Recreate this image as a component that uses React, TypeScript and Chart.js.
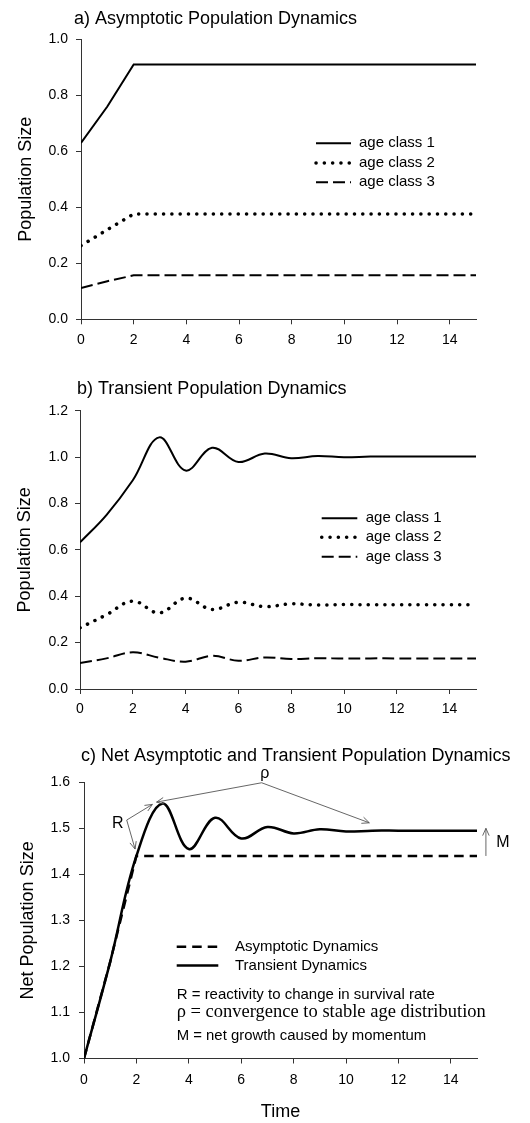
import React, { useEffect, useRef } from 'react';
import { Chart, registerables } from 'chart.js';

Chart.register(...registerables);

const SANS = "'Liberation Sans', Arial, Helvetica, sans-serif";
const SERIF = "'Liberation Serif', 'Times New Roman', Times, serif";
const AXIS = '#333';

// ---------- data ----------
const TIME = [0, 1, 2, 3, 4, 5, 6, 7, 8, 9, 10, 11, 12, 13, 14, 15];

// a) Asymptotic population dynamics
const ASYM_CLASS1 = [0.63, 0.76, 0.91, 0.91, 0.91, 0.91, 0.91, 0.91, 0.91, 0.91, 0.91, 0.91, 0.91, 0.91, 0.91, 0.91];
const ASYM_CLASS2 = [0.263, 0.32, 0.376, 0.376, 0.376, 0.376, 0.376, 0.376, 0.376, 0.376, 0.376, 0.376, 0.376, 0.376, 0.376, 0.376];
const ASYM_CLASS3 = [0.112, 0.136, 0.157, 0.157, 0.157, 0.157, 0.157, 0.157, 0.157, 0.157, 0.157, 0.157, 0.157, 0.157, 0.157, 0.157];

// b) Transient population dynamics
const TRANS_CLASS1 = [0.632, 0.75, 0.9, 1.085, 0.942, 1.04, 0.979, 1.015, 0.995, 1.005, 0.999, 1.002, 1.002, 1.002, 1.002, 1.002];
const TRANS_CLASS2 = [0.264, 0.32, 0.379, 0.328, 0.392, 0.343, 0.374, 0.355, 0.367, 0.362, 0.364, 0.363, 0.363, 0.363, 0.363, 0.363];
const TRANS_CLASS3 = [0.112, 0.132, 0.158, 0.135, 0.118, 0.143, 0.122, 0.136, 0.129, 0.133, 0.131, 0.132, 0.132, 0.132, 0.132, 0.132];

// c) Net dynamics
const NET_ASYM = [1.0, 1.21, 1.44, 1.44, 1.44, 1.44, 1.44, 1.44, 1.44, 1.44, 1.44, 1.44, 1.44, 1.44, 1.44, 1.44];
const NET_TRANS = [1.0, 1.21, 1.44, 1.554, 1.455, 1.523, 1.478, 1.503, 1.489, 1.498, 1.493, 1.495, 1.495, 1.495, 1.495, 1.495];

const CLASS_LABELS = ['age class 1', 'age class 2', 'age class 3'];
const NET_LABELS = ['Asymptotic Dynamics', 'Transient Dynamics'];
const NOTES = [
  'R = reactivity to change in survival rate',
  'ρ = convergence to stable age distribution',
  'M = net growth caused by momentum',
];

// ---------- styles ----------
const SOLID = { borderDash: [] as number[], borderWidth: 2, borderCapStyle: 'butt' };
const DOTTED = { borderDash: [0.1, 8.2], borderWidth: 3.5, borderCapStyle: 'round' };
const DASHED = { borderDash: [12, 5], borderWidth: 2, borderCapStyle: 'butt' };
const NET_DASHED = { borderDash: [9.5, 6], borderWidth: 2.5, borderCapStyle: 'butt' };
const NET_SOLID = { borderDash: [] as number[], borderWidth: 2.5, borderCapStyle: 'butt' };

const pts = (ys: number[]) => TIME.map((t, i) => ({ x: t, y: ys[i] }));

function ds(label: string, ys: number[], style: any, tension: number) {
  return {
    label,
    data: pts(ys),
    borderColor: '#000',
    backgroundColor: '#000',
    pointRadius: 0,
    fill: false,
    tension,
    ...style,
  };
}

function sample(ctx: CanvasRenderingContext2D, x1: number, x2: number, y: number, style: any) {
  ctx.save();
  ctx.strokeStyle = '#000';
  ctx.lineWidth = style.borderWidth;
  ctx.lineCap = style.borderCapStyle;
  ctx.setLineDash(style.borderDash);
  ctx.beginPath();
  ctx.moveTo(x1, y);
  ctx.lineTo(x2, y);
  ctx.stroke();
  ctx.restore();
}

function arrow(ctx: CanvasRenderingContext2D, x1: number, y1: number, x2: number, y2: number) {
  const a = Math.atan2(y2 - y1, x2 - x1);
  const h = 8;
  const w = 0.42;
  ctx.beginPath();
  ctx.moveTo(x1, y1);
  ctx.lineTo(x2, y2);
  ctx.moveTo(x2 - h * Math.cos(a - w), y2 - h * Math.sin(a - w));
  ctx.lineTo(x2, y2);
  ctx.lineTo(x2 - h * Math.cos(a + w), y2 - h * Math.sin(a + w));
  ctx.stroke();
}

type Spec = {
  height: number;
  left: number;
  right: number;
  top: number;
  bottom: number;
  yMin: number;
  yMax: number;
  yStep: number;
  yTitle: string;
  yTitleCenter: number;
  xTitle?: string;
  xTitleCenter?: number;
  xLabelPad: number;
  yLabelPad: number;
  datasets: any[];
  draw: (chart: any) => void;
};

function buildConfig(p: Spec): any {
  const lineH = 18 * 1.2;
  const grid = { display: true, drawOnChartArea: false, drawTicks: true, tickLength: 5, color: AXIS, lineWidth: 1 };
  const border = { display: true, color: AXIS, width: 1 };
  return {
    type: 'line',
    data: { datasets: p.datasets },
    options: {
      responsive: false,
      maintainAspectRatio: false,
      animation: false,
      devicePixelRatio: 1,
      layout: { padding: { left: 0, right: 530 - p.right, top: p.top, bottom: 0 } },
      plugins: { legend: { display: false }, tooltip: { enabled: false }, title: { display: false } },
      elements: { point: { radius: 0 } },
      scales: {
        x: {
          type: 'linear',
          min: 0,
          max: 15,
          ticks: {
            stepSize: 2,
            includeBounds: false,
            color: '#000',
            font: { family: SANS, size: 14 },
            padding: p.xLabelPad,
            maxRotation: 0,
            autoSkip: false,
          },
          grid,
          border,
          title: p.xTitle
            ? {
                display: true,
                text: p.xTitle,
                color: '#000',
                font: { family: SANS, size: 18 },
                padding: { top: 0, bottom: Math.max(0, p.height - (p.xTitleCenter as number) - lineH / 2) },
              }
            : { display: false },
          afterFit: (s: any) => {
            s.height = p.height - p.bottom;
          },
        },
        y: {
          type: 'linear',
          min: p.yMin,
          max: p.yMax,
          ticks: {
            stepSize: p.yStep,
            color: '#000',
            font: { family: SANS, size: 14 },
            padding: p.yLabelPad,
            callback: (v: any) => Number(v).toFixed(1),
          },
          grid,
          border,
          title: {
            display: true,
            text: p.yTitle,
            color: '#000',
            font: { family: SANS, size: 18 },
            padding: { top: p.yTitleCenter - lineH / 2, bottom: 0 },
          },
          afterFit: (s: any) => {
            s.width = p.left;
          },
        },
      },
    },
    plugins: [{ id: 'decor', afterDraw: (chart: any) => p.draw(chart) }],
  };
}

function drawTitle(ctx: CanvasRenderingContext2D, text: string, x: number, baseline: number) {
  ctx.save();
  ctx.font = `18px ${SANS}`;
  ctx.fillStyle = '#000';
  ctx.textBaseline = 'alphabetic';
  ctx.textAlign = 'left';
  ctx.fillText(text, x, baseline);
  ctx.restore();
}

function drawClassLegend(ctx: CanvasRenderingContext2D, x1: number, x2: number, tx: number, rows: number[]) {
  const styles = [SOLID, DOTTED, DASHED];
  ctx.save();
  ctx.font = `15px ${SANS}`;
  ctx.fillStyle = '#000';
  ctx.textBaseline = 'middle';
  rows.forEach((y, i) => {
    sample(ctx, x1, x2, y, styles[i]);
    ctx.fillText(CLASS_LABELS[i], tx, y);
  });
  ctx.restore();
}

const specA: Spec = {
  height: 360,
  left: 81,
  right: 476,
  top: 39.3,
  bottom: 319.3,
  yMin: 0,
  yMax: 1.0,
  yStep: 0.2,
  yTitle: 'Population Size',
  yTitleCenter: 25.8,
  xLabelPad: 7,
  yLabelPad: 8,
  datasets: [
    ds(CLASS_LABELS[0], ASYM_CLASS1, SOLID, 0),
    ds(CLASS_LABELS[1], ASYM_CLASS2, DOTTED, 0),
    ds(CLASS_LABELS[2], ASYM_CLASS3, DASHED, 0),
  ],
  draw: (chart) => {
    const ctx = chart.ctx as CanvasRenderingContext2D;
    drawTitle(ctx, 'a) Asymptotic Population Dynamics', 74, 23.8);
    drawClassLegend(ctx, 316, 351, 359, [143.3, 163, 182.3]);
  },
};

const specB: Spec = {
  height: 360,
  left: 80,
  right: 476,
  top: 50.7,
  bottom: 329,
  yMin: 0,
  yMax: 1.2,
  yStep: 0.2,
  yTitle: 'Population Size',
  yTitleCenter: 24.8,
  xLabelPad: 7,
  yLabelPad: 7,
  datasets: [
    ds(CLASS_LABELS[0], TRANS_CLASS1, SOLID, 0.38),
    ds(CLASS_LABELS[1], TRANS_CLASS2, DOTTED, 0.38),
    ds(CLASS_LABELS[2], TRANS_CLASS3, DASHED, 0.38),
  ],
  draw: (chart) => {
    const ctx = chart.ctx as CanvasRenderingContext2D;
    drawTitle(ctx, 'b) Transient Population Dynamics', 77, 33.5);
    drawClassLegend(ctx, 321.7, 357.3, 365.7, [158.3, 177.3, 196.7]);
  },
};

const specC: Spec = {
  height: 403,
  left: 84,
  right: 477,
  top: 62.3,
  bottom: 338.5,
  yMin: 1.0,
  yMax: 1.6,
  yStep: 0.1,
  yTitle: 'Net Population Size',
  yTitleCenter: 28.3,
  xTitle: 'Time',
  xTitleCenter: 392.7,
  xLabelPad: 8,
  yLabelPad: 9,
  datasets: [
    ds(NET_LABELS[0], NET_ASYM, NET_DASHED, 0),
    ds(NET_LABELS[1], NET_TRANS, NET_SOLID, 0.38),
  ],
  draw: (chart) => {
    const ctx = chart.ctx as CanvasRenderingContext2D;
    const xs = chart.scales.x;
    const ys = chart.scales.y;
    const X = (t: number) => xs.getPixelForValue(t);
    const Y = (v: number) => ys.getPixelForValue(v);
    drawTitle(ctx, 'c) Net Asymptotic and Transient Population Dynamics', 81, 41.2);

    ctx.save();
    ctx.fillStyle = '#000';
    // legend
    ctx.font = `15px ${SANS}`;
    ctx.textBaseline = 'middle';
    sample(ctx, 176.7, 218.3, 226.7, NET_DASHED);
    ctx.fillText(NET_LABELS[0], 235, 226.7);
    sample(ctx, 176.7, 218.3, 245.5, NET_SOLID);
    ctx.fillText(NET_LABELS[1], 235, 245.5);

    // notes
    ctx.font = `15px ${SANS}`;
    ctx.fillText(NOTES[0], 176.7, 275);
    ctx.font = `18.5px ${SERIF}`;
    ctx.fillText(NOTES[1], 176.7, 292);
    ctx.font = `14.9px ${SANS}`;
    ctx.fillText(NOTES[2], 176.7, 315.7);

    // annotations
    ctx.strokeStyle = '#555';
    ctx.lineWidth = 0.9;
    ctx.font = `16px ${SANS}`;
    ctx.textAlign = 'center';
    ctx.fillText('ρ', X(6.9), Y(1.618));
    arrow(ctx, X(6.78), Y(1.599), X(2.77), Y(1.557));
    arrow(ctx, X(6.78), Y(1.599), X(10.89), Y(1.512));
    ctx.fillText('R', X(1.29), Y(1.511));
    arrow(ctx, X(1.63), Y(1.518), X(2.61), Y(1.552));
    arrow(ctx, X(1.63), Y(1.518), X(1.95), Y(1.455));
    arrow(ctx, X(15.34), Y(1.44), X(15.34), Y(1.5));
    ctx.fillText('M', X(15.99), Y(1.47));
    ctx.restore();
  },
};

export default function App() {
  const refA = useRef<HTMLCanvasElement>(null);
  const refB = useRef<HTMLCanvasElement>(null);
  const refC = useRef<HTMLCanvasElement>(null);

  useEffect(() => {
    const charts: Chart[] = [];
    const pairs: [HTMLCanvasElement | null, Spec][] = [
      [refA.current, specA],
      [refB.current, specB],
      [refC.current, specC],
    ];
    pairs.forEach(([cv, spec]) => {
      if (cv) charts.push(new Chart(cv, buildConfig(spec)));
    });
    return () => charts.forEach((c) => c.destroy());
  }, []);

  const cs = (top: number): React.CSSProperties => ({ position: 'absolute', left: 0, top, display: 'block' });

  return (
    <div style={{ position: 'absolute', left: 0, top: 0, width: 530, height: 1123, background: '#fff', overflow: 'hidden' }}>
      <canvas ref={refA} width={530} height={360} style={cs(0)} />
      <canvas ref={refB} width={530} height={360} style={cs(360)} />
      <canvas ref={refC} width={530} height={403} style={cs(720)} />
    </div>
  );
}
